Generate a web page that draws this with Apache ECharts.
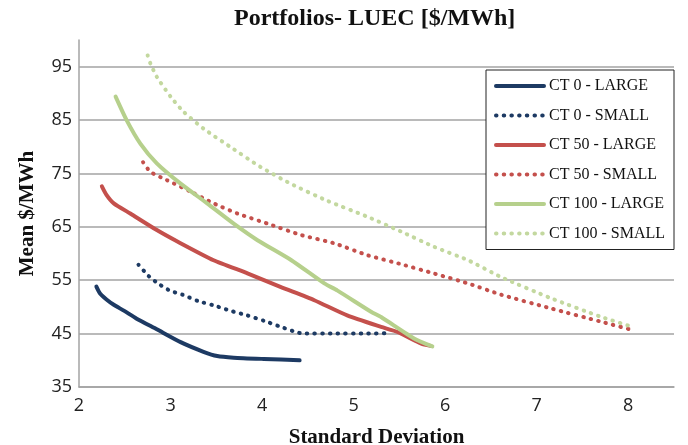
<!DOCTYPE html>
<html>
<head>
<meta charset="utf-8">
<script src="https://cdn.jsdelivr.net/npm/echarts@6/dist/echarts.min.js"></script>
<style>
  html, body { margin: 0; padding: 0; background: #fff; }
  #chart { width: 688px; height: 445px; }
</style>
</head>
<body>
<div id="chart"></div>
<script>
// Portfolio frontiers: [standard deviation, mean $/MWh]
const seriesNames = ['CT 0 - LARGE', 'CT 0 - SMALL', 'CT 50 - LARGE', 'CT 50 - SMALL', 'CT 100 - LARGE', 'CT 100 - SMALL'];

const ct0Large = [[2.19,53.8],[2.23,52.5],[2.30,51.4],[2.38,50.4],[2.49,49.3],[2.63,47.8],[2.85,45.8],[3.11,43.4],[3.36,41.6],[3.51,40.8],[3.69,40.5],[4.02,40.25],[4.41,40.0]];
const ct0Small = [[2.65,57.9],[2.76,55.8],[2.88,54.2],[3.0,53.0],[3.13,52.3],[3.3,51.1],[3.47,50.3],[3.65,49.3],[3.84,48.4],[4.02,47.4],[4.2,46.3],[4.35,45.4],[4.45,45.0],[4.8,45.0],[5.1,45.0],[5.4,45.1]];
const ct50Large = [[2.25,72.6],[2.30,71.0],[2.38,69.4],[2.56,67.5],[2.85,64.4],[3.07,62.3],[3.47,58.75],[3.84,56.3],[4.20,53.75],[4.57,51.25],[4.93,48.4],[5.30,46.25],[5.48,45.3],[5.74,43.1],[5.84,42.7]];
const ct50Small = [[2.70,77.1],[2.78,75.3],[2.96,73.75],[3.22,71.6],[3.47,69.4],[3.73,67.5],[4.06,65.6],[4.42,63.5],[4.79,61.9],[5.15,59.7],[5.52,58.0],[5.88,56.25],[6.25,54.4],[6.61,52.3],[7.16,49.7],[7.71,47.2],[8.06,45.6]];
const ct100Large = [[2.40,89.4],[2.52,85.0],[2.67,80.6],[2.85,76.9],[3.11,73.1],[3.40,69.4],[3.69,65.6],[3.95,62.5],[4.32,58.75],[4.68,54.4],[4.82,53.1],[5.19,49.1],[5.30,48.1],[5.66,44.1],[5.86,42.6]];
const ct100Small = [[2.75,97.1],[2.78,95.6],[2.85,93.1],[3.0,89.4],[3.14,86.6],[3.36,83.4],[3.65,80.0],[3.98,76.25],[4.31,73.1],[4.71,69.9],[5.15,66.9],[5.52,64.1],[5.88,61.25],[6.25,58.75],[6.61,55.6],[7.16,51.6],[7.71,48.1],[8.02,46.4]];

const NAVY = '#1d3a63';
const RED = '#c4504c';
const GREEN = '#b6d08c';
const GREEN_DOT = '#c3d89f';
const GRID = '#a3a3a3';
const SERIF = '"Liberation Serif", "Times New Roman", serif';
const SANS = '"Open Sans", "Noto Sans", sans-serif';

function solid(name, data, color) {
  return {
    name, type: 'line', data, symbol: 'none', smooth: 0.2,
    lineStyle: { color, width: 4, cap: 'round', join: 'round' },
    itemStyle: { color }
  };
}
function dotted(name, data, color) {
  return {
    name, type: 'line', data, symbol: 'none', smooth: 0.2,
    lineStyle: { color, width: 4, type: [0.5, 7.2], cap: 'round' },
    itemStyle: { color }
  };
}

const chart = echarts.init(document.getElementById('chart'), null, { renderer: 'canvas' });
chart.setOption({
  animation: false,
  backgroundColor: '#fff',
  title: {
    text: 'Portfolios- LUEC [$/MWh]',
    left: 229, top: 2,
    textStyle: { fontFamily: SERIF, fontWeight: 'bold', fontSize: 24, color: '#111' }
  },
  grid: { left: 79, right: 14, top: 40, bottom: 58, containLabel: false, outerBoundsMode: 'none' },
  legend: {
    orient: 'vertical',
    left: 486, top: 70,
    padding: [8, 9, 8, 8],
    itemWidth: 48, itemHeight: 14, itemGap: 13.5,
    backgroundColor: '#fff',
    borderColor: '#222', borderWidth: 1,
    itemStyle: { opacity: 0, borderWidth: 0 },
    lineStyle: { width: 4, cap: 'round' },
    textStyle: { fontFamily: SERIF, fontSize: 16, color: '#111', lineHeight: 16 },
    data: seriesNames
  },
  xAxis: {
    type: 'value', min: 2, max: 8.5, interval: 1,
    name: 'Standard Deviation', nameLocation: 'middle', nameGap: 40,
    nameTextStyle: { fontFamily: SERIF, fontWeight: 'bold', fontSize: 21, color: '#111' },
    axisLine: { show: true, lineStyle: { color: GRID, width: 1.5 } },
    axisTick: { show: false },
    axisLabel: { showMaxLabel: false, margin: 10, fontFamily: SANS, fontSize: 18, color: '#222' },
    splitLine: { show: false }
  },
  yAxis: {
    type: 'value', min: 35, max: 100, interval: 10,
    name: 'Mean $/MWh', nameLocation: 'middle', nameGap: 41,
    nameTextStyle: { fontFamily: SERIF, fontWeight: 'bold', fontSize: 21, color: '#111' },
    axisLine: { show: true, lineStyle: { color: GRID, width: 1.5 } },
    axisTick: { show: false },
    axisLabel: { showMaxLabel: false, margin: 7, fontFamily: SANS, fontSize: 18, color: '#222' },
    splitLine: { show: true, showMaxLine: false, lineStyle: { color: GRID, width: 1.5 } }
  },
  series: [
    solid(seriesNames[0], ct0Large, NAVY),
    dotted(seriesNames[1], ct0Small, NAVY),
    solid(seriesNames[2], ct50Large, RED),
    dotted(seriesNames[3], ct50Small, RED),
    solid(seriesNames[4], ct100Large, GREEN),
    dotted(seriesNames[5], ct100Small, GREEN_DOT)
  ]
});
</script>
</body>
</html>
